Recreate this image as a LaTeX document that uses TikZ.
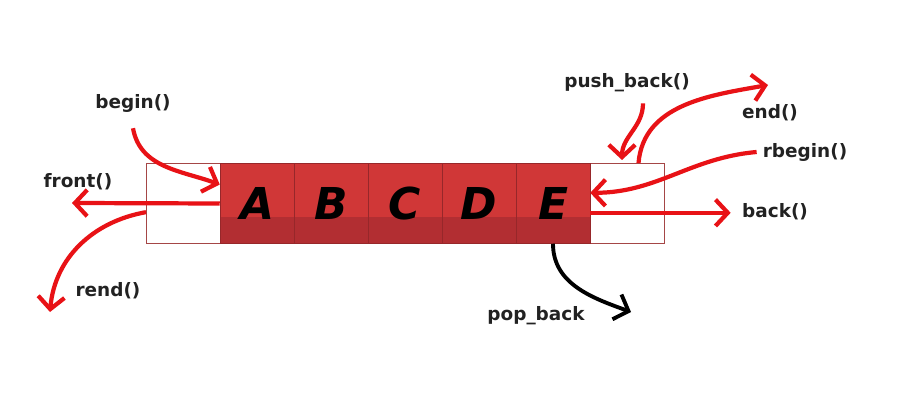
\documentclass[tikz,border=0pt]{standalone}
\usepackage{fontspec}
\setmainfont{DejaVu Sans}
\usetikzlibrary{arrows.meta}
\definecolor{cellred}{RGB}{208,55,55}
\definecolor{bandred}{RGB}{178,46,50}
\definecolor{edgered}{RGB}{165,70,70}
\definecolor{arrred}{RGB}{232,18,22}
\definecolor{labelgray}{RGB}{34,34,34}
\tikzset{
	cell/.style={minimum width=1.48cm, minimum height=1.6cm, inner sep=0pt, fill=cellred, draw=bandred!85!black, line width=0.3pt,
		font=\fontsize{25}{25}\selectfont\bfseries\itshape,
		path picture={\fill[bandred] (path picture bounding box.south west) rectangle ([yshift=0.52cm]path picture bounding box.south east);}},
	emptycell/.style={minimum width=1.48cm, minimum height=1.6cm, inner sep=0pt, fill=white, draw=edgered, line width=0.6pt},
	lbl/.style={font=\fontsize{10.5}{12}\selectfont\bfseries, text=labelgray},
	ptr/.style={arrred, line width=2.4pt, -{Straight Barb[length=7pt,width=15pt]}},
	blackptr/.style={ptr, black, line width=2.2pt}
}
\begin{document}
\begin{tikzpicture}[x=0.02cm,y=-0.02cm]
	\useasboundingbox (0,0) rectangle (922,418);
	\node[emptycell] (lbox) at (183.5,203.5) {};
	\node[emptycell] (rbox) at (627.5,203.5) {};
	\foreach \l [count=\i] in {A,B,C,D,E} {
		\pgfmathsetmacro{\cx}{220+74*\i-37}
		\node[cell] (\l) at (\cx,203.5) {\raisebox{-2pt}{\l}};
	}
	\node[lbl] (beginlbl) at (133,103) {begin()};
	\node[lbl] (frontlbl) at (78,182) {front()};
	\node[lbl] (rendlbl) at (108,291) {rend()};
	\node[lbl] (pushlbl) at (627,83) {push\_back()};
	\node[lbl] (endlbl) at (770,113) {end()};
	\node[lbl] (rbeginlbl) at (805,152) {rbegin()};
	\node[lbl] (backlbl) at (775,212) {back()};
	\node[lbl] (poplbl) at (536,316) {pop\_back};
	\coordinate (fronttip) at (72,203);
	\coordinate (rendtip) at (50,312);
	\coordinate (endtip) at (768,85);
	\coordinate (poptip) at (631,312);
	\draw[ptr] ([yshift=-0.2cm]beginlbl.south) to[out=-80,in=160] (A.153);
	\draw[ptr] (A.west) -- (fronttip);
	\draw[ptr] (lbox.193) to[out=190,in=85] (rendtip);
	\draw[ptr] ([xshift=0.32cm,yshift=-0.1cm]pushlbl.south) to[out=-90,in=90] ([xshift=-0.11cm,yshift=0.06cm]rbox.north);
	\draw[ptr] ([xshift=0.22cm]rbox.north) to[out=85,in=190] (endtip);
	\draw[ptr] (rbeginlbl.west) to[out=185,in=0] (E.16);
	\draw[ptr, shorten >=3pt] (E.-14) -- (E.-14 -| backlbl.west);
	\draw[blackptr] (E.south) to[out=-90,in=160] (poptip);
\end{tikzpicture}
\end{document}
